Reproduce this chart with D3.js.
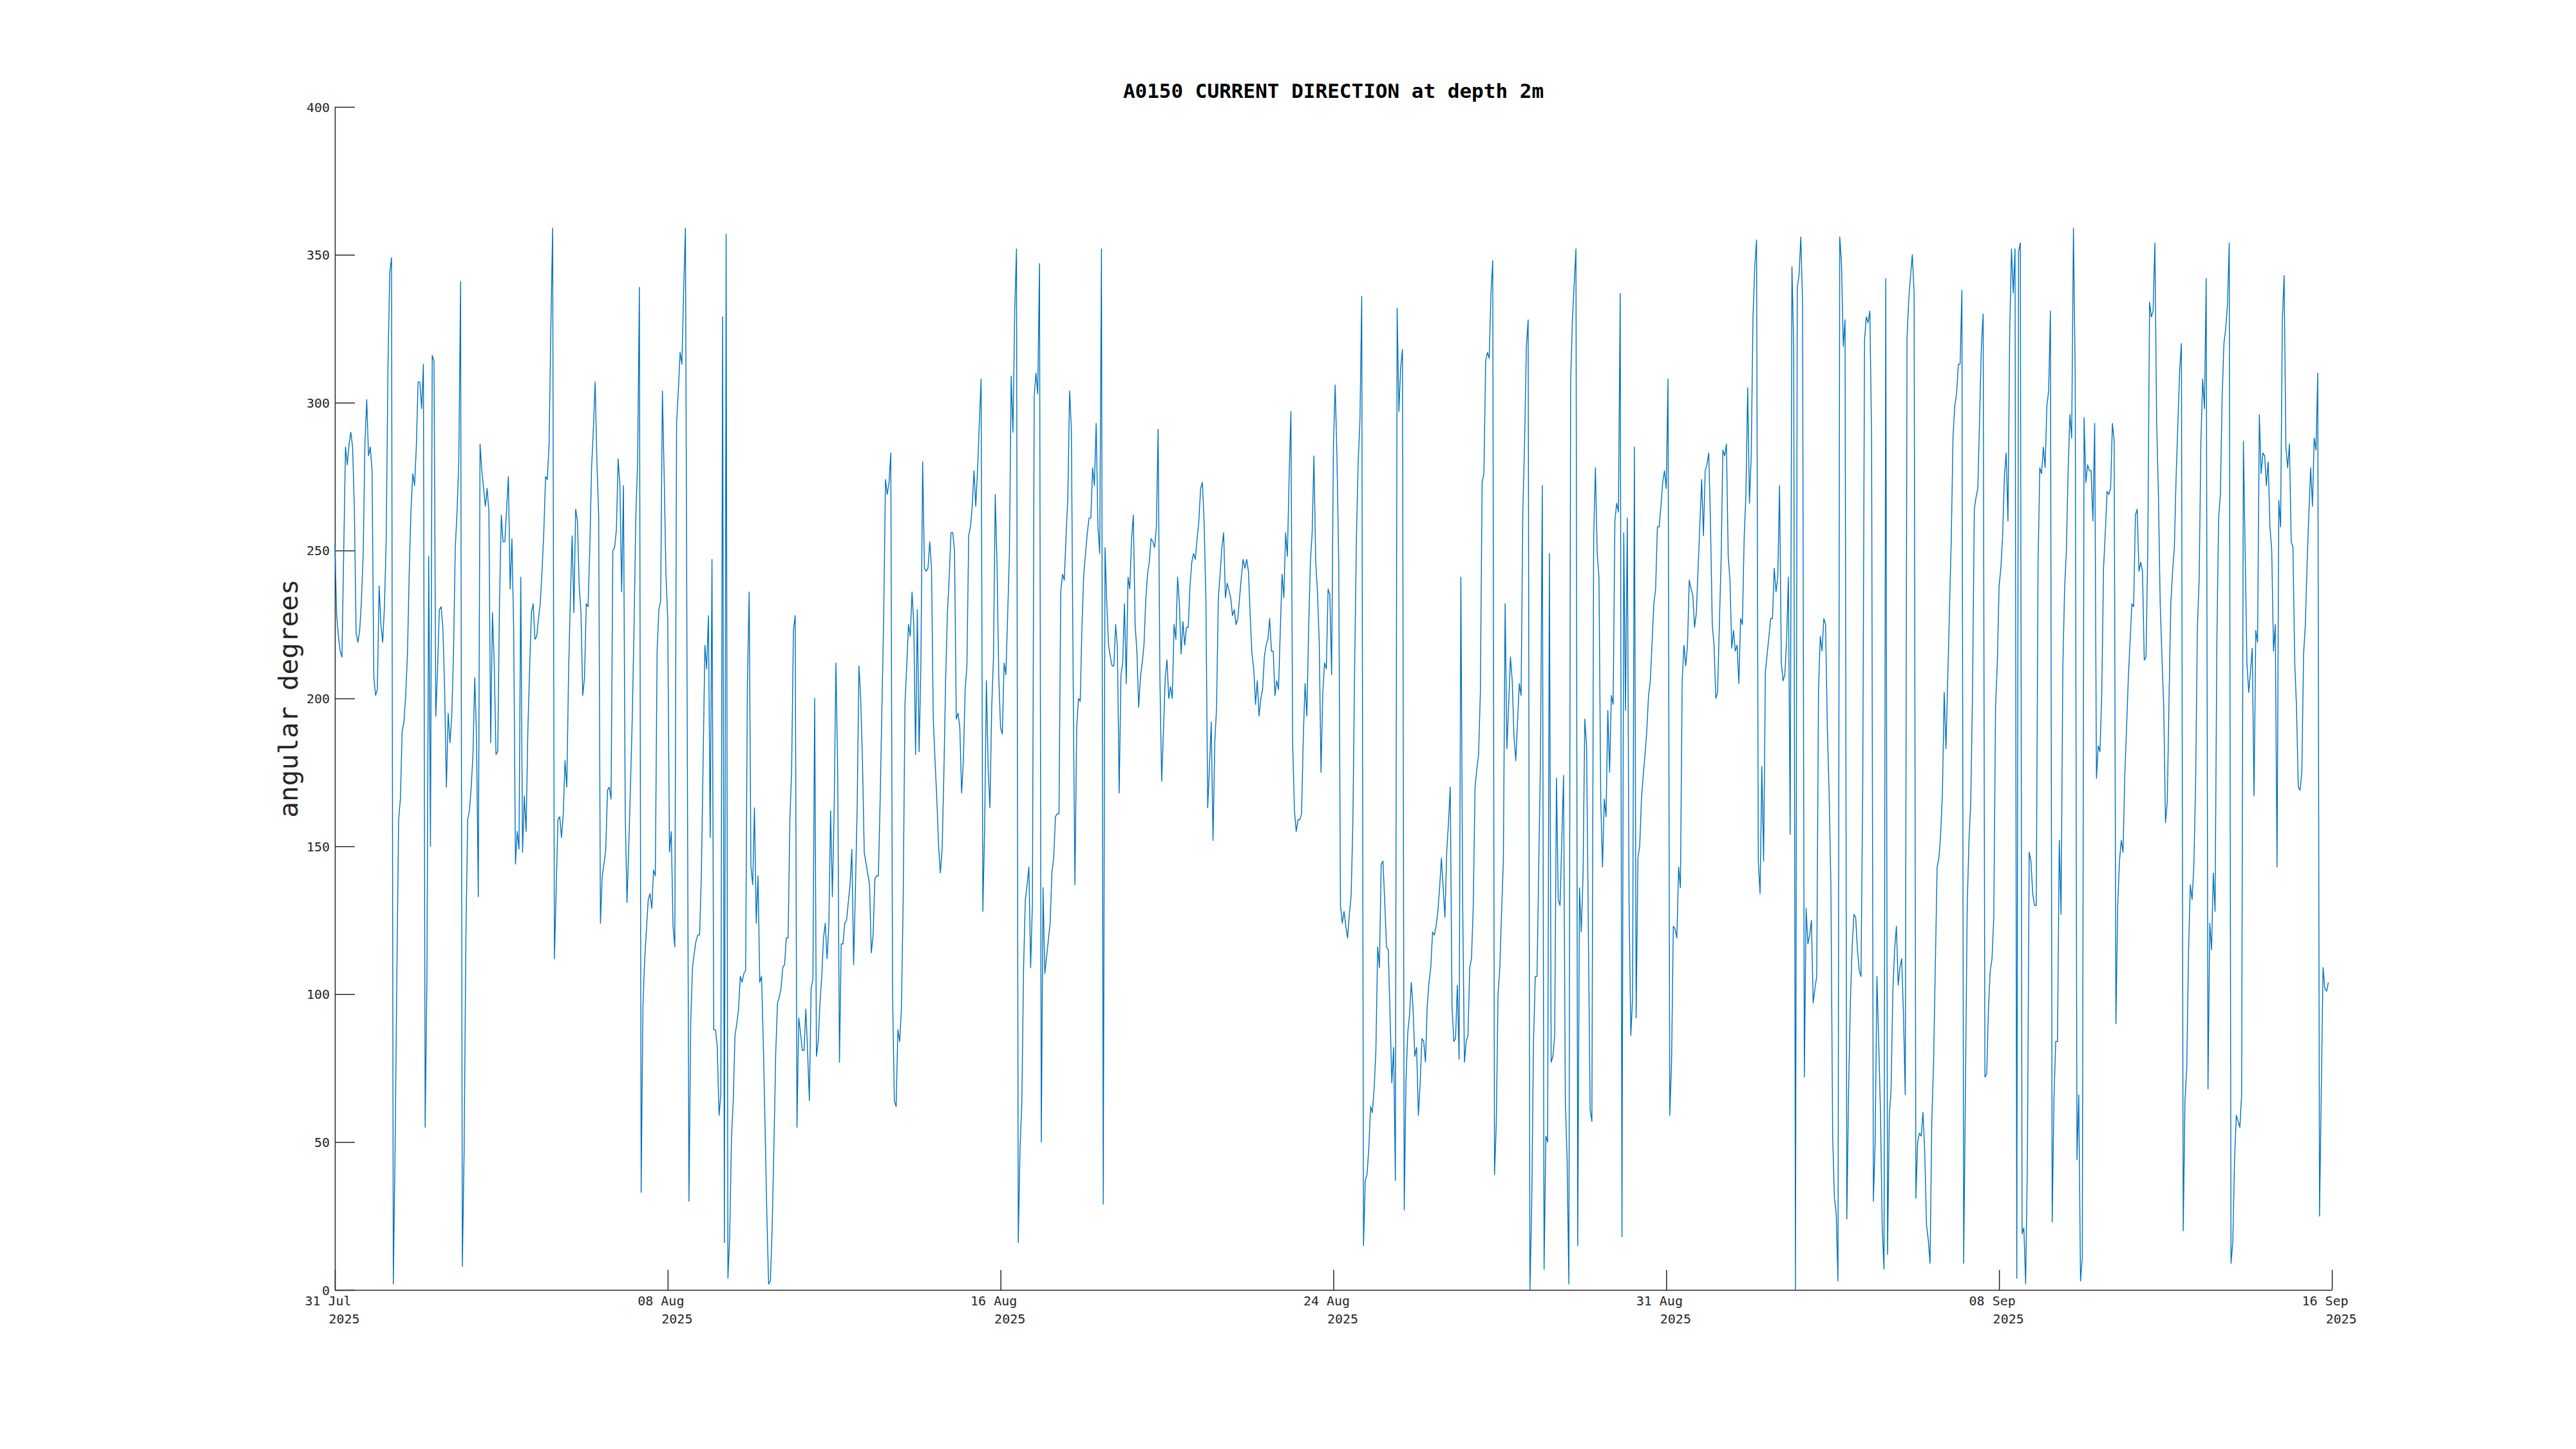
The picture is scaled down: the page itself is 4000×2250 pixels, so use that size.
<!DOCTYPE html>
<html>
<head>
<meta charset="utf-8">
<script src="https://cdn.jsdelivr.net/npm/d3@7"></script>
<style>
  body { margin: 0; background: #fff; }
  svg { display: block; }
  .axis text { font-family: "DejaVu Sans Mono", monospace; font-size: 20px; fill: #262626; }
  .axis path, .axis line { stroke: #262626; stroke-width: 1.5; }
</style>
</head>
<body>
<div id="chart"></div>
<script>
// current direction (deg), hourly samples, in runs
// each run starts at the hour (since 31 Jul 00:00) given in runStart
var runStart = [0, 98, 200, 302, 404, 506, 607, 709, 811, 913, 1015];

var run01 = [252,228,221,216,214,250,285,279,286,290,285,264,222,219,223,233,249,287,301,282,
  285,277,207,201,203,238,225,219,231,254,313,344,349,2,47,106,159,166,189,192,
  201,215,243,264,276,272,285,307,307,298,313,55,106,248,150,316,314,194,210,230,
  231,224,203,170,195,185,194,215,251,263,280,341,8,47,119,159,162,170,181,207,
  187,133,286,277,271,265,271,263,185,229,212,181,182,233,262,253,253];
var run02 = [275,237,254,223,144,155,149,241,148,167,155,189,210,229,232,220,221,227,232,243,
  256,275,274,286,326,359,112,135,159,160,153,161,179,170,209,233,255,229,264,260,
  238,229,201,207,232,231,251,278,291,307,280,262,124,140,144,149,169,170,166,250,
  251,257,281,272,236,272,161,131,150,171,194,225,262,280,339,33,96,112,122,132,
  134,129,142,140,216,230,233,304,275,242,227,148,155,123,116,293,304,317,313,338,359];
var run03 = [30,91,109,114,118,120,120,140,179,218,210,228,153,247,88,88,82,59,66,329,
  16,357,4,18,51,64,86,90,95,106,104,107,108,205,236,143,137,163,124,140,
  104,106,83,55,25,2,3,21,49,80,97,99,102,109,110,119,119,159,176,223,
  228,55,92,87,81,81,95,81,64,102,105,200,79,84,97,106,119,124,112,123,
  162,133,162,212,176,77,117,117,124,125,131,137,149,110,135,163,211,200,179,148];
var run04 = [137,114,120,139,140,140,166,197,228,274,269,273,283,100,64,62,88,84,95,132,
  198,211,225,221,236,225,181,230,182,212,280,244,243,244,253,244,193,179,166,150,
  141,149,175,207,229,241,256,256,250,193,195,190,168,179,203,211,255,258,265,277,
  265,277,293,308,128,156,206,176,163,197,214,269,245,207,190,188,212,208,228,249,
  309,290,331,352,16,48,63,109,132,137,143,109,131,302,310,303,347,50,136,107];
var run05 = [124,141,146,160,161,161,236,242,240,255,268,304,291,207,137,190,200,199,225,242,
  249,256,261,261,278,272,293,258,249,352,29,251,232,218,214,211,211,225,217,168,
  208,212,232,205,241,237,254,262,225,216,197,207,212,218,233,242,246,254,253,251,
  258,291,207,172,189,207,213,200,204,200,225,220,241,232,215,226,218,224,224,238,
  246,249,247,254,260,271,273,259,233,163,177,192,152,185,197,234,242,251,256,234,239];
var run06 = [234,228,230,225,227,234,241,247,244,247,243,228,215,210,198,206,194,200,203,214,
  218,220,227,216,216,201,206,203,223,242,234,256,248,275,297,184,162,155,159,159,
  161,187,205,194,223,246,256,282,246,236,219,175,202,212,210,237,235,208,285,306,
  282,246,130,124,128,123,119,127,133,158,211,254,280,294,336,15,37,39,48,62,
  60,68,81,116,109,144,145,131,116,115,93,70,82,37,332,297,312,318,27,71,87];
var run07 = [93,104,95,79,82,59,70,85,84,77,96,104,109,121,120,123,128,136,146,136,
  126,148,158,170,96,84,85,103,78,241,132,77,84,86,109,112,130,170,176,181,
  202,273,276,314,317,315,337,348,39,56,100,109,128,145,232,183,198,214,206,187,
  179,192,205,201,263,287,319,328,0,28,83,106,106,144,181,272,7,52,50,249,
  77,79,86,173,132,130,152,174,64,44,2,307,328,340,352,15,136,121,140,193,184];
var run08 = [61,57,254,278,249,241,166,143,166,160,196,175,201,198,260,266,263,337,18,256,
  196,261,131,86,99,285,92,146,150,166,174,181,189,201,206,219,232,237,258,258,
  265,273,277,271,308,59,77,123,122,119,143,136,206,218,211,218,240,237,235,224,
  229,244,259,274,255,277,279,283,259,225,218,200,202,225,247,284,282,286,248,240,
  217,223,216,218,205,227,225,254,269,305,266,282,329,346,355,145,134,177,145,209];
var run09 = [227,227,244,236,241,272,212,206,208,220,241,154,346,319,0,339,343,356,334,72,
  129,117,120,125,97,102,106,203,221,216,227,225,190,168,137,52,31,26,3,356,
  347,319,328,24,68,97,116,127,126,115,108,106,171,321,329,327,331,287,30,50,
  106,84,60,21,7,342,12,59,68,101,115,123,103,109,112,93,66,322,335,343,
  350,337,31,50,53,52,60,47,22,17,9,57,77,110,143,146,154,168,202,183];
var run10 = [254,289,299,303,313,313,338,9,68,130,152,165,202,264,268,271,295,319,330,72,
  73,95,108,112,126,197,212,238,244,255,275,283,260,324,352,337,352,4,351,354,
  19,21,2,44,148,145,134,130,130,245,278,276,285,278,299,304,331,23,65,84,
  84,152,127,210,237,250,277,296,288,359,309,44,66,3,11,295,273,279,277,277,
  260,293,173,184,182,202,244,256,270,269,271,293,287,90,130,145,152,148,174,190,207];
var run11 = [232,231,262,264,243,246,243,213,214,251,334,329,331,354,293,269,232,214,197,158,
  165,200,232,243,251,275,293,311,320,20,64,75,114,137,132,143,171,224,240,287,
  308,298,342,68,124,115,141,128,219,261,269,302,320,325,333,354,9,16,44,59,
  57,55,66,287,249,212,202,209,217,167,223,219,296,276,283,282,272,280,258,250,
  216,225,143,267,258,328,343,285,278,286,253,251,212,197,170,169,175,215,225,246,
  263,278,265,288,284,310,25,68,109,102,101,104];

var runs = [run01, run02, run03, run04, run05, run06, run07, run08, run09, run10, run11];

var yTicks = [0, 50, 100, 150, 200, 250, 300, 350, 400];
var xTickLabels = ["31 Jul", "08 Aug", "16 Aug", "24 Aug", "31 Aug", "08 Sep", "16 Sep"];
var xTickYear = "2025";

var titleText = "A0150 CURRENT DIRECTION at depth 2m";
var yLabelText = "angular degrees";

var W = 4000, H = 2250;
// plot box (note: "top" is taken by window.top, so prefixed names)
var axLeft = 520, axRight = 3621, axTop = 166, axBottom = 2003;

var t0 = Date.UTC(2025, 6, 31);
var HOUR = 3600 * 1000;
var tEnd = t0 + 47 * 24 * HOUR;

var svg = d3.select("#chart").append("svg")
  .attr("width", W)
  .attr("height", H);

var x = d3.scaleUtc().domain([new Date(t0), new Date(tEnd)]).range([axLeft, axRight]);
var y = d3.scaleLinear().domain([0, 400]).range([axBottom, axTop]);

// build the series
var pts = [];
for (var r = 0; r < runs.length; r++) {
  for (var i = 0; i < runs[r].length; i++) {
    pts.push({t: new Date(t0 + (runStart[r] + i) * HOUR), v: runs[r][i]});
  }
}

// x ticks are spread evenly over the range, like the original
var tickDates = xTickLabels.map(function(d, i) {
  return new Date(t0 + (tEnd - t0) * i / (xTickLabels.length - 1));
});

var xAxis = d3.axisBottom(x)
  .tickValues(tickDates)
  .tickSizeInner(-31)
  .tickSizeOuter(0)
  .tickFormat("");

var gx = svg.append("g")
  .attr("class", "axis")
  .attr("transform", "translate(0," + axBottom + ")")
  .call(xAxis);

gx.selectAll(".tick").each(function(d, i) {
  var g = d3.select(this);
  g.append("text")
    .attr("x", -11)
    .attr("y", 24)
    .attr("text-anchor", "middle")
    .text(xTickLabels[i]);
  g.append("text")
    .attr("x", 14)
    .attr("y", 52)
    .attr("text-anchor", "middle")
    .text(xTickYear);
});

var yAxis = d3.axisLeft(y)
  .tickValues(yTicks)
  .tickSizeInner(-31)
  .tickSizeOuter(0)
  .tickPadding(8);

svg.append("g")
  .attr("class", "axis")
  .attr("transform", "translate(" + axLeft + ",0)")
  .call(yAxis)
  .selectAll("text")
  .attr("dy", "0.35em");

var line = d3.line()
  .x(function(d) { return x(d.t); })
  .y(function(d) { return y(d.v); });

svg.append("path")
  .datum(pts)
  .attr("fill", "none")
  .attr("stroke", "#0072BD")
  .attr("stroke-width", 1.4)
  .attr("stroke-linejoin", "round")
  .attr("d", line);

svg.append("text")
  .attr("x", (axLeft + axRight) / 2)
  .attr("y", 152)
  .attr("text-anchor", "middle")
  .style("font-family", "'DejaVu Sans Mono', monospace")
  .style("font-weight", "bold")
  .style("font-size", "31px")
  .style("fill", "#000")
  .text(titleText);

svg.append("text")
  .attr("transform", "translate(462," + ((axTop + axBottom) / 2) + ") rotate(-90)")
  .attr("text-anchor", "middle")
  .style("font-family", "'DejaVu Sans Mono', monospace")
  .style("font-size", "41px")
  .style("fill", "#262626")
  .text(yLabelText);
</script>
</body>
</html>
